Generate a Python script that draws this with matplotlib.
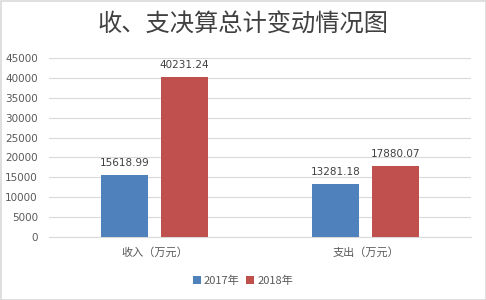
import matplotlib
matplotlib.use("Agg")
import matplotlib.pyplot as plt
import numpy as np
from matplotlib.patches import Rectangle

plt.rcParams['font.family'] = ['Noto Sans CJK SC', 'DejaVu Sans']

categories = ['收入（万元）', '支出（万元）']
series_names = ['2017年', '2018年']
values_2017 = [15618.99, 13281.18]
values_2018 = [40231.24, 17880.07]
yticks = [0, 5000, 10000, 15000, 20000, 25000, 30000, 35000, 40000, 45000]
colors = ['#4F81BD', '#C0504D']

fig = plt.figure(figsize=(4.86, 3.0), dpi=100)
ax = fig.add_axes([49/486, 1-237/300, 422/486, 179/300])

x = np.arange(len(categories))
w = 0.223
off = 0.142
b1 = ax.bar(x - off, values_2017, w, color=colors[0], label=series_names[0], zorder=3)
b2 = ax.bar(x + off, values_2018, w, color=colors[1], label=series_names[1], zorder=3)
for bars, vals in ((b1, values_2017), (b2, values_2018)):
    for r, v in zip(bars, vals):
        ax.annotate(f'{v:.2f}', (r.get_x() + r.get_width()/2, v), xytext=(0, 5),
                    textcoords='offset points', ha='center', va='bottom',
                    fontsize=7.5, color='#404040', family='DejaVu Sans')

ax.set_xlim(-0.5, 1.5)
ax.set_ylim(0, 45000)
ax.set_yticks(yticks)
ax.set_yticklabels([str(t) for t in yticks], fontsize=7.5, color='#595959', family='DejaVu Sans')
ax.set_xticks(x)
ax.set_xticklabels(categories, fontsize=8, color='#595959')
ax.tick_params(axis='both', length=0, pad=8)
ax.tick_params(axis='x', pad=7)
ax.grid(axis='y', color='#D9D9D9', linewidth=0.8, zorder=0)
for s in ['top', 'right', 'left']:
    ax.spines[s].set_visible(False)
ax.spines['bottom'].set_color('#D9D9D9')
ax.spines['bottom'].set_linewidth(0.8)

fig.text(0.5, 1-25/300, '收、支决算总计变动情况图', ha='center', va='center',
         fontsize=17.5, fontweight='medium', color='#404040')

leg = fig.legend(handles=[b1, b2], labels=series_names, loc='center',
                 bbox_to_anchor=(243/486, 1-281/300), ncol=2, frameon=False,
                 fontsize=8, handlelength=0.7, handleheight=0.7, handletextpad=0.3,
                 columnspacing=0.6, labelcolor='#595959')

fig.patches.append(Rectangle((0.5/486, 0.5/300), 1-1/486, 1-1/300, transform=fig.transFigure,
                             fill=False, edgecolor='#D9D9D9', linewidth=1.2))

fig.savefig('out.png', dpi=100)
